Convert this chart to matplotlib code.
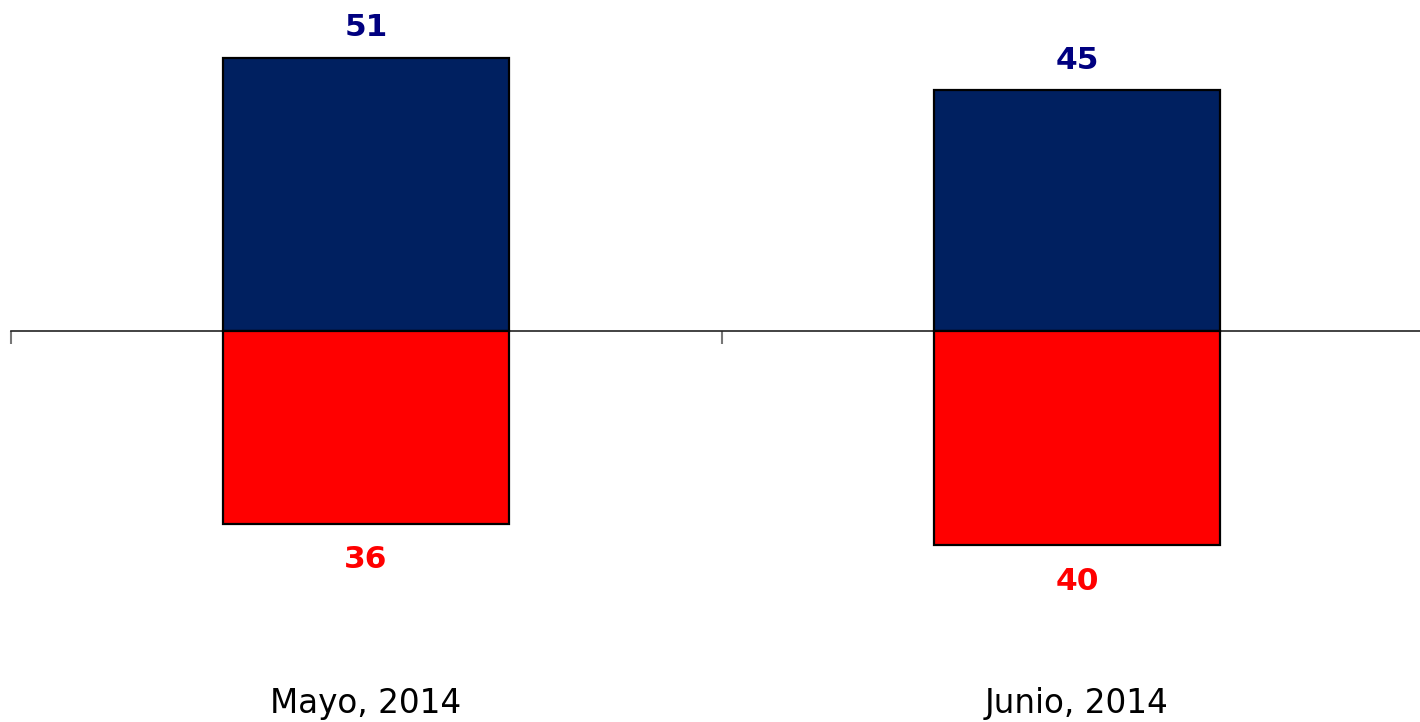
import matplotlib.pyplot as plt

categories = ["Mayo, 2014", "Junio, 2014"]
positive = [51, 45]
negative = [36, 40]

W, H, DPI = 1420, 722, 100
fig = plt.figure(figsize=(W / DPI, H / DPI), dpi=DPI)
# one category slot = 711 px, axis starts at x=10
ax = fig.add_axes([10.5 / W, 0, 1422 / W, 1])

px_per_unit = 5.355
ax.set_xlim(-0.5, 1.5)
ax.set_ylim(-(H - 331) / px_per_unit, 331 / px_per_unit)

xs = list(range(len(categories)))
ax.bar(xs, positive, width=0.402, color="#002060", edgecolor="black", linewidth=1.6, zorder=3)
ax.bar(xs, [-v for v in negative], width=0.402, color="#FF0000", edgecolor="black", linewidth=1.6, zorder=3)

for x, p, n in zip(xs, positive, negative):
    ax.text(x, p + 30 / px_per_unit, str(p), ha="center", va="center",
            fontsize=22.5, fontweight="bold", color="#000080")
    ax.text(x, -n - 36 / px_per_unit, str(n), ha="center", va="center",
            fontsize=22.5, fontweight="bold", color="#FF0000")

for x, c in zip(xs, categories):
    ax.text(x, -(703 - 331) / px_per_unit, c, ha="center", va="center",
            fontsize=23.5, color="black")

for s in ["top", "right", "left"]:
    ax.spines[s].set_visible(False)
ax.spines["bottom"].set_position(("data", 0))
ax.spines["bottom"].set_color("#222222")
ax.spines["bottom"].set_linewidth(1.2)
ax.spines["bottom"].set_zorder(2)
ax.set_yticks([])
ax.set_xticks([-0.5, 0.5])
ax.set_xticklabels([])
ax.tick_params(axis="x", direction="out", length=9, width=1.5, color="#777777")

fig.savefig("out.png", dpi=DPI)
